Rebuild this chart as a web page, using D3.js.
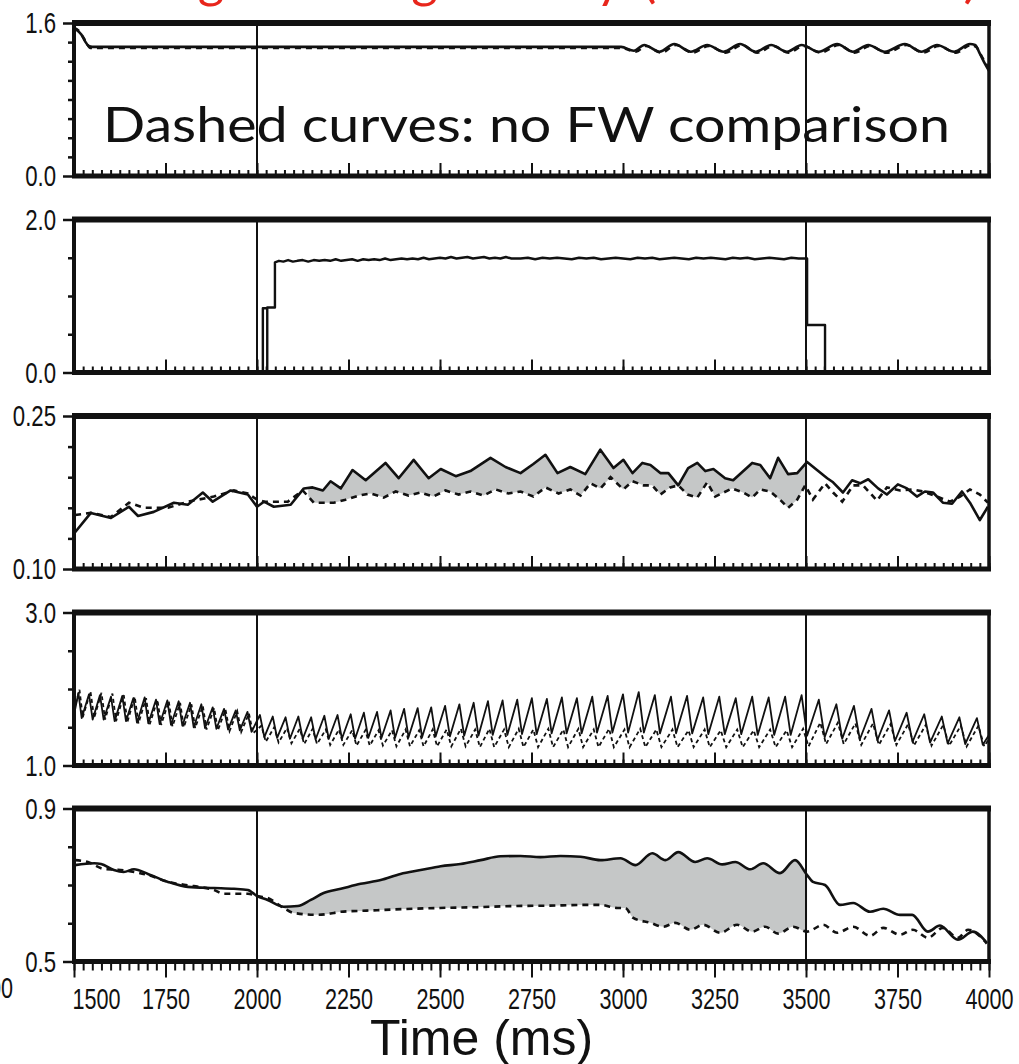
<!DOCTYPE html>
<html>
<head>
<meta charset="utf-8">
<script src="https://cdn.jsdelivr.net/npm/d3@7"></script>
<style>
  body { margin: 0; background: #fff; }
  svg { display: block; }
</style>
</head>
<body>
<svg id="chart" width="1019" height="1064"></svg>
<script>
// shared time axis (ms)
const timeDomain = [1500, 4000];
const xTickLabels = [1500, 1750, 2000, 2250, 2500, 2750, 3000, 3250, 3500, 3750, 4000];
const minorStep = 25;
const markerTimes = [2000, 3500];

// panel 1
const p1Domain = [0, 1.6];
const p1Ticks = [0, 0.2, 0.4, 0.6, 0.8, 1.0, 1.2, 1.4, 1.6];
const p1Solid = [[1500,1.54],[1510,1.52],[1520,1.48],[1530,1.41],[1540,1.36],[1550,1.35],[2000,1.35],[2500,1.35],[2995,1.35],
  [3030,1.31],[3058,1.37],[3100,1.30],[3140,1.38],[3185,1.30],[3230,1.37],[3275,1.30],[3320,1.38],[3362,1.30],[3405,1.37],
  [3448,1.30],[3488,1.37],[3535,1.30],[3585,1.38],[3628,1.30],[3670,1.37],[3715,1.30],[3770,1.38],[3815,1.30],[3858,1.37],
  [3905,1.30],[3948,1.38],[3962,1.37],[3975,1.28],[3988,1.18],[4000,1.10]];
const p1Dashed = [[1500,1.55],[1515,1.51],[1530,1.42],[1545,1.34],[2000,1.34],[2500,1.34],[2995,1.34],
  [3035,1.30],[3062,1.36],[3105,1.29],[3145,1.37],[3190,1.29],[3235,1.36],[3280,1.29],[3325,1.37],[3367,1.29],[3410,1.36],
  [3452,1.29],[3493,1.36],[3540,1.29],[3590,1.37],[3632,1.29],[3675,1.36],[3720,1.29],[3775,1.37],[3820,1.29],[3862,1.36],
  [3910,1.29],[3950,1.37],[3965,1.35],[3980,1.25],[4000,1.12]];

// panel 2
const p2Domain = [0, 2.0];
const p2Ticks = [0, 0.5, 1.0, 1.5, 2.0];
const p2Solid = [[1500,0],[2016,0],[2016,0.84],[2028,0.84],[2028,0],[2028,0.85],[2049,0.85],[2049,1.44],
  [2060,1.46],[2072,1.45],[2085,1.47],[2098,1.45],[2110,1.46],[2125,1.47],[2140,1.45],[2155,1.47],[2170,1.46],[2185,1.47],
  [2200,1.46],[2215,1.48],[2230,1.46],[2245,1.47],[2260,1.48],[2275,1.46],[2290,1.48],[2305,1.47],[2320,1.48],[2335,1.47],
  [2350,1.49],[2365,1.47],[2380,1.48],[2395,1.49],[2410,1.48],[2425,1.49],[2440,1.48],[2455,1.50],[2470,1.48],[2485,1.49],
  [2500,1.50],[2515,1.49],[2530,1.51],[2545,1.49],[2560,1.50],[2575,1.51],[2590,1.49],[2605,1.50],[2620,1.51],[2635,1.49],
  [2650,1.50],[2665,1.49],[2680,1.51],[2695,1.49],[2720,1.49],[2740,1.50],[2760,1.48],[2780,1.50],[2800,1.49],[2820,1.50],
  [2840,1.49],[2860,1.48],[2880,1.50],[2900,1.49],[2920,1.50],[2940,1.48],[2960,1.49],[2980,1.50],[3000,1.49],[3020,1.48],
  [3040,1.50],[3060,1.49],[3080,1.50],[3100,1.48],[3120,1.49],[3140,1.50],[3160,1.49],[3180,1.48],[3200,1.50],[3220,1.49],
  [3240,1.50],[3260,1.49],[3280,1.48],[3300,1.50],[3320,1.49],[3340,1.50],[3360,1.48],[3380,1.49],[3400,1.50],[3420,1.49],
  [3440,1.48],[3460,1.50],[3480,1.49],[3503,1.49],[3503,0.62],[3552,0.62],[3552,0],[4000,0]];

// panel 3
const p3Domain = [0.10, 0.25];
const p3Ticks = [0.10, 0.13, 0.16, 0.19, 0.22, 0.25];
const p3Solid = [[1503,0.136],[1546,0.155],[1601,0.150],[1650,0.161],[1675,0.152],[1718,0.156],[1773,0.165],[1811,0.163],
  [1852,0.175],[1879,0.166],[1928,0.177],[1975,0.173],[2000,0.161],[2019,0.166],[2046,0.161],[2092,0.163],[2128,0.179],
  [2152,0.180],[2180,0.177],[2201,0.186],[2229,0.179],[2261,0.197],[2297,0.187],[2351,0.204],[2387,0.189],[2428,0.207],
  [2469,0.189],[2502,0.198],[2543,0.191],[2583,0.196],[2638,0.209],[2679,0.200],[2720,0.194],[2755,0.203],[2788,0.212],
  [2821,0.194],[2856,0.200],[2897,0.193],[2938,0.217],[2974,0.199],[3001,0.207],[3026,0.194],[3053,0.204],[3075,0.202],
  [3102,0.194],[3124,0.194],[3151,0.182],[3178,0.199],[3203,0.204],[3225,0.196],[3247,0.198],[3279,0.189],[3301,0.187],
  [3353,0.204],[3375,0.202],[3402,0.189],[3424,0.209],[3451,0.193],[3476,0.194],[3503,0.205],[3530,0.197],[3558,0.189],
  [3574,0.185],[3601,0.175],[3626,0.187],[3648,0.184],[3670,0.188],[3697,0.179],[3721,0.173],[3751,0.183],[3776,0.179],
  [3803,0.171],[3825,0.176],[3847,0.175],[3874,0.165],[3899,0.164],[3926,0.176],[3948,0.165],[3975,0.148],[3997,0.161]];
const p3Dashed = [[1503,0.153],[1546,0.155],[1601,0.151],[1650,0.165],[1691,0.160],[1757,0.160],[1811,0.166],[1882,0.171],
  [1937,0.177],[1975,0.174],[2000,0.168],[2019,0.166],[2084,0.166],[2125,0.177],[2155,0.165],[2210,0.165],[2242,0.168],
  [2278,0.172],[2311,0.174],[2346,0.170],[2379,0.176],[2414,0.172],[2447,0.175],[2482,0.171],[2515,0.177],[2551,0.173],
  [2583,0.176],[2619,0.172],[2652,0.178],[2687,0.174],[2720,0.176],[2755,0.171],[2788,0.180],[2824,0.174],[2856,0.178],
  [2884,0.172],[2911,0.184],[2938,0.179],[2966,0.190],[3001,0.178],[3026,0.186],[3056,0.182],[3080,0.182],[3102,0.173],
  [3129,0.180],[3151,0.182],[3176,0.173],[3203,0.170],[3230,0.185],[3252,0.171],[3298,0.179],[3328,0.175],[3353,0.170],
  [3375,0.178],[3402,0.176],[3429,0.168],[3451,0.160],[3476,0.168],[3498,0.182],[3519,0.168],[3552,0.184],[3574,0.175],
  [3599,0.166],[3629,0.182],[3656,0.182],[3694,0.167],[3721,0.180],[3757,0.177],[3790,0.178],[3820,0.176],[3858,0.171],
  [3893,0.166],[3921,0.171],[3948,0.178],[3975,0.173],[3997,0.165]];
const p3Shaded = [2140, 3503];

// panel 4
const p4Domain = [1.0, 3.0];
const p4Ticks = [1.0, 1.5, 2.0, 2.5, 3.0];
const p4Solid = [[1500,1.66],[1512,1.95],[1521,1.62],[1541,1.93],[1551,1.60],[1571,1.92],[1581,1.60],[1601,1.90],[1611,1.58],
  [1632,1.91],[1642,1.58],[1662,1.88],[1672,1.56],[1693,1.89],[1703,1.55],[1724,1.86],[1734,1.54],[1755,1.85],[1765,1.53],
  [1786,1.84],[1796,1.52],[1817,1.82],[1827,1.50],[1848,1.80],[1858,1.49],[1879,1.76],[1889,1.48],[1910,1.74],[1921,1.47],
  [1942,1.72],[1953,1.46],[1974,1.70],[1985,1.44],
  [2008,1.66],[2020,1.37],[2043,1.64],[2055,1.36],[2078,1.63],[2090,1.35],[2113,1.64],[2125,1.35],[2148,1.63],[2160,1.34],
  [2184,1.65],[2196,1.35],[2220,1.66],[2232,1.35],[2256,1.67],[2268,1.35],[2292,1.69],[2304,1.36],[2328,1.70],[2340,1.36],
  [2365,1.72],[2377,1.36],[2402,1.74],[2414,1.37],[2439,1.75],[2451,1.37],[2476,1.76],[2488,1.38],
  [2514,1.78],[2527,1.38],[2553,1.80],[2566,1.39],[2592,1.82],[2605,1.39],[2631,1.84],[2644,1.40],[2671,1.85],[2684,1.40],
  [2711,1.86],[2724,1.41],[2751,1.88],[2764,1.41],[2792,1.87],[2805,1.42],[2833,1.89],[2846,1.42],[2874,1.88],[2887,1.42],
  [2916,1.90],[2929,1.43],[2958,1.91],[2971,1.43],
  [3000,1.93],[3014,1.43],[3043,1.96],[3057,1.43],[3087,1.92],[3101,1.42],[3131,1.90],[3145,1.42],[3175,1.91],[3189,1.42],
  [3219,1.89],[3233,1.41],[3263,1.90],[3278,1.41],[3308,1.88],[3323,1.41],[3353,1.90],[3368,1.40],[3398,1.89],[3413,1.40],
  [3443,1.90],[3458,1.40],[3488,1.92],[3503,1.39],
  [3535,1.86],[3551,1.37],[3583,1.80],[3599,1.35],[3631,1.78],[3647,1.34],[3679,1.74],[3695,1.33],[3727,1.72],[3743,1.32],
  [3775,1.69],[3791,1.31],[3823,1.67],[3839,1.30],[3871,1.64],[3887,1.29],[3919,1.63],[3935,1.28],[3967,1.62],[3983,1.27],
  [4000,1.40]];
const p4Dashed = [[1500,1.72],[1515,1.99],[1524,1.63],[1545,1.97],[1555,1.62],[1575,1.95],[1585,1.60],[1605,1.94],[1615,1.58],
  [1636,1.92],[1646,1.57],[1666,1.90],[1676,1.55],[1697,1.88],[1707,1.54],[1728,1.86],[1738,1.53],[1759,1.84],[1769,1.51],
  [1790,1.82],[1800,1.50],[1821,1.80],[1831,1.49],[1852,1.78],[1862,1.47],[1883,1.75],[1893,1.46],[1914,1.73],[1925,1.45],
  [1946,1.71],[1957,1.44],[1978,1.68],[1989,1.42],
  [2012,1.52],[2024,1.31],[2047,1.50],[2059,1.30],[2082,1.49],[2094,1.29],[2117,1.48],[2129,1.28],[2152,1.48],[2164,1.28],
  [2188,1.47],[2200,1.27],[2224,1.47],[2236,1.27],[2260,1.46],[2272,1.26],[2296,1.46],[2308,1.26],[2332,1.46],[2344,1.26],
  [2369,1.46],[2381,1.25],[2406,1.47],[2418,1.25],[2443,1.46],[2455,1.25],[2480,1.47],[2492,1.25],
  [2518,1.47],[2531,1.25],[2557,1.48],[2570,1.25],[2596,1.47],[2609,1.24],[2635,1.48],[2648,1.24],[2675,1.47],[2688,1.24],
  [2715,1.48],[2728,1.24],[2755,1.47],[2768,1.24],[2796,1.48],[2809,1.24],[2837,1.47],[2850,1.24],[2878,1.48],[2891,1.24],
  [2920,1.47],[2933,1.24],[2962,1.48],[2975,1.24],
  [3004,1.47],[3018,1.24],[3047,1.48],[3061,1.24],[3091,1.47],[3105,1.24],[3135,1.47],[3149,1.24],[3179,1.46],[3193,1.24],
  [3223,1.47],[3237,1.24],[3267,1.46],[3282,1.24],[3312,1.47],[3327,1.24],[3357,1.46],[3372,1.24],[3402,1.47],[3417,1.24],
  [3447,1.46],[3462,1.24],[3492,1.48],[3507,1.25],
  [3539,1.56],[3555,1.28],[3587,1.56],[3603,1.28],[3635,1.55],[3651,1.27],[3683,1.55],[3699,1.27],[3731,1.54],[3747,1.27],
  [3779,1.54],[3795,1.26],[3827,1.53],[3843,1.26],[3875,1.53],[3891,1.26],[3923,1.52],[3939,1.25],[3971,1.52],[3987,1.25],
  [4000,1.35]];

// panel 5
const p5Domain = [0.5, 0.9];
const p5Ticks = [0.5, 0.6, 0.7, 0.8, 0.9];
const p5Solid = [[1503,0.752],[1555,0.757],[1574,0.755],[1609,0.739],[1636,0.734],[1664,0.741],[1702,0.729],[1757,0.708],
  [1811,0.695],[1882,0.692],[1937,0.690],[1975,0.687],[2000,0.671],[2029,0.661],[2073,0.643],[2111,0.645],[2147,0.661],
  [2182,0.679],[2229,0.690],[2283,0.703],[2338,0.713],[2392,0.729],[2447,0.739],[2502,0.749],[2556,0.755],[2611,0.765],
  [2665,0.775],[2720,0.776],[2774,0.773],[2829,0.776],[2884,0.774],[2938,0.765],[2993,0.770],[3034,0.752],[3080,0.783],
  [3116,0.765],[3151,0.786],[3197,0.760],[3230,0.770],[3271,0.754],[3307,0.760],[3348,0.741],[3383,0.757],[3429,0.731],
  [3470,0.765],[3503,0.726],[3519,0.708],[3552,0.700],[3593,0.648],[3629,0.653],[3675,0.630],[3711,0.638],[3757,0.622],
  [3790,0.622],[3833,0.578],[3866,0.594],[3915,0.557],[3956,0.578],[3994,0.549]];
const p5Dashed = [[1503,0.765],[1538,0.760],[1582,0.742],[1620,0.740],[1664,0.734],[1702,0.726],[1757,0.708],[1827,0.697],
  [1882,0.687],[1909,0.677],[1975,0.677],[2000,0.671],[2029,0.666],[2073,0.640],[2100,0.627],[2166,0.622],[2210,0.627],
  [2229,0.630],[2300,0.633],[2400,0.637],[2500,0.640],[2600,0.642],[2700,0.645],[2800,0.646],[2900,0.648],[2938,0.648],
  [2985,0.640],[3006,0.640],[3028,0.614],[3075,0.601],[3110,0.591],[3143,0.601],[3184,0.583],[3219,0.596],[3266,0.575],
  [3312,0.596],[3353,0.578],[3388,0.591],[3424,0.573],[3465,0.591],[3503,0.578],[3547,0.596],[3585,0.575],[3629,0.591],
  [3675,0.567],[3711,0.588],[3757,0.570],[3792,0.583],[3833,0.562],[3874,0.588],[3915,0.562],[3943,0.583],[3994,0.547]];
const p5Shaded = [2073, 3503];

const titleMain = "Long-Standing Activity";
const titleParen = "(FW removed)";
const noteText = "Dashed curves: no FW comparison";
const xTitle = "Time (ms)";

// layout
const plotLeft = 74, plotRight = 989;
const panelTops = [23, 219.5, 416, 612.5, 808.5];
const panelH = 153;
const tickFont = "'Liberation Sans', Arial, sans-serif";
const noteFont = "Lato, 'Open Sans', sans-serif";

const panels = [
  { domain: p1Domain, ticks: p1Ticks, fmt: ".1f", solid: p1Solid, dashed: p1Dashed, curve: d3.curveMonotoneX },
  { domain: p2Domain, ticks: p2Ticks, fmt: ".1f", solid: p2Solid, curve: d3.curveLinear, sw: 2.4 },
  { domain: p3Domain, ticks: p3Ticks, fmt: ".2f", solid: p3Solid, dashed: p3Dashed, shade: p3Shaded, curve: d3.curveLinear },
  { domain: p4Domain, ticks: p4Ticks, fmt: ".1f", solid: p4Solid, dashed: p4Dashed, curve: d3.curveLinear, sw: 1.8, dash: "4,3" },
  { domain: p5Domain, ticks: p5Ticks, fmt: ".1f", solid: p5Solid, dashed: p5Dashed, shade: p5Shaded, curve: d3.curveMonotoneX }
];

const svg = d3.select("#chart");
const x = d3.scaleLinear().domain(timeDomain).range([plotLeft, plotRight]);
const minorTicks = d3.range(timeDomain[0], timeDomain[1] + 1, minorStep);

// squeeze tick text like the condensed face in the original
function condense(sel, k) {
  sel.each(function () {
    const w = this.getComputedTextLength();
    d3.select(this).attr("textLength", w * k).attr("lengthAdjust", "spacingAndGlyphs");
  });
}

panels.forEach((p, i) => {
  const top = panelTops[i], bottom = top + panelH;
  const y = d3.scaleLinear().domain(p.domain).range([bottom, top]);
  const g = svg.append("g");
  const line = d3.line().x(d => x(d[0])).y(d => y(d[1])).curve(p.curve);

  // gray band between the two curves
  if (p.shade) {
    const [t0, t1] = p.shade;
    const clipId = "clip" + i;
    g.append("clipPath").attr("id", clipId)
      .append("rect")
      .attr("x", x(t0)).attr("y", top)
      .attr("width", x(t1) - x(t0)).attr("height", panelH);
    const i0 = arr => Math.max(0, d3.bisector(d => d[0]).left(arr, t0) - 1);
    const i1 = arr => Math.min(arr.length, d3.bisector(d => d[0]).right(arr, t1) + 1);
    const upper = p.solid.slice(i0(p.solid), i1(p.solid));
    const lower = p.dashed.slice(i0(p.dashed), i1(p.dashed)).reverse();
    const dPath = line(upper) + "L" + line(lower).slice(1) + "Z";
    g.append("path")
      .attr("d", dPath)
      .attr("fill", "#c5c7c7")
      .attr("clip-path", `url(#${clipId})`);
  }

  // stimulus markers
  g.selectAll(".marker")
    .data(markerTimes)
    .join("line")
    .attr("x1", d => x(d)).attr("x2", d => x(d))
    .attr("y1", top).attr("y2", bottom)
    .attr("stroke", "#111")
    .attr("stroke-width", 2);

  if (p.dashed) {
    g.append("path")
      .datum(p.dashed)
      .attr("d", line)
      .attr("fill", "none")
      .attr("stroke", "#111")
      .attr("stroke-width", p.sw || 2.6)
      .attr("stroke-dasharray", p.dash || "6,5");
  }

  g.append("path")
    .datum(p.solid)
    .attr("d", line)
    .attr("fill", "none")
    .attr("stroke", "#111")
    .attr("stroke-width", p.sw || 2.6)
    .attr("stroke-linejoin", "round");

  // x ticks
  const last = i === panels.length - 1;
  const axisGen = last ? d3.axisBottom : d3.axisTop;
  g.append("g")
    .attr("transform", `translate(0,${bottom})`)
    .call(axisGen(x).tickValues(minorTicks).tickSize(last ? 9 : 6).tickFormat(""))
    .call(a => a.select(".domain").remove());
  const major = g.append("g")
    .attr("transform", `translate(0,${bottom})`)
    .call(axisGen(x).tickValues(xTickLabels).tickSize(last ? 16 : 13).tickPadding(10)
      .tickFormat(last ? d3.format("d") : ""))
    .call(a => a.select(".domain").remove());
  g.selectAll(".tick line").attr("stroke", "#111").attr("stroke-width", 2);

  if (last) {
    major.selectAll("text")
      .attr("font-family", tickFont)
      .attr("font-size", 30)
      .attr("fill", "#111")
      .call(condense, 0.72);
    major.selectAll("text").filter(d => d === 1500)
      .attr("text-anchor", "start").attr("x", -2);
  }

  // y ticks
  const fmt = d3.format(p.fmt);
  const isEnd = d => d === p.domain[0] || d === p.domain[1];
  const yAxis = g.append("g")
    .attr("transform", `translate(${plotLeft},0)`)
    .call(d3.axisLeft(y).tickValues(p.ticks).tickSize(6).tickPadding(12)
      .tickFormat(d => isEnd(d) ? fmt(d) : ""))
    .call(a => a.select(".domain").remove());
  yAxis.selectAll(".tick line")
    .attr("stroke", "#111").attr("stroke-width", 2.5)
    .filter(isEnd).attr("x2", -11);
  yAxis.selectAll("text")
    .attr("font-family", tickFont)
    .attr("font-size", 30)
    .attr("fill", "#111")
    .call(condense, 0.74);

  // frame: heavy top and bottom
  const frame = [
    { x1: plotLeft - 2, x2: plotRight + 2, y1: top, y2: top, w: 6 },
    { x1: plotLeft - 2, x2: plotRight + 2, y1: bottom, y2: bottom, w: 5 },
    { x1: plotLeft, x2: plotLeft, y1: top, y2: bottom, w: 4 },
    { x1: plotRight, x2: plotRight, y1: top, y2: bottom, w: 3.5 }
  ];
  g.selectAll(".frame")
    .data(frame)
    .join("line")
    .attr("x1", d => d.x1).attr("x2", d => d.x2)
    .attr("y1", d => d.y1).attr("y2", d => d.y2)
    .attr("stroke", "#111")
    .attr("stroke-width", d => d.w);
});

// note inside top panel
svg.append("text")
  .attr("x", 103).attr("y", 142)
  .attr("font-family", noteFont)
  .attr("font-size", 49)
  .attr("fill", "#111")
  .attr("textLength", 847)
  .attr("lengthAdjust", "spacingAndGlyphs")
  .text(noteText);

// red heading, mostly above the visible area
svg.append("text")
  .attr("x", 116).attr("y", -3)
  .attr("font-family", noteFont)
  .attr("font-size", 50)
  .attr("fill", "#e8261c")
  .attr("textLength", 506)
  .attr("lengthAdjust", "spacingAndGlyphs")
  .text(titleMain);
svg.append("text")
  .attr("x", 642).attr("y", -3)
  .attr("font-family", noteFont)
  .attr("font-size", 50)
  .attr("fill", "#e8261c")
  .attr("textLength", 336)
  .attr("lengthAdjust", "spacingAndGlyphs")
  .text(titleParen);

// leftover label clipped at the left edge
svg.append("text")
  .attr("x", 13).attr("y", 998)
  .attr("text-anchor", "end")
  .attr("font-family", tickFont)
  .attr("font-size", 30)
  .attr("fill", "#111")
  .text("1000")
  .call(condense, 0.72);

svg.append("text")
  .attr("x", 370).attr("y", 1055)
  .attr("font-family", tickFont)
  .attr("font-size", 50)
  .attr("fill", "#111")
  .text(xTitle);
</script>
</body>
</html>
